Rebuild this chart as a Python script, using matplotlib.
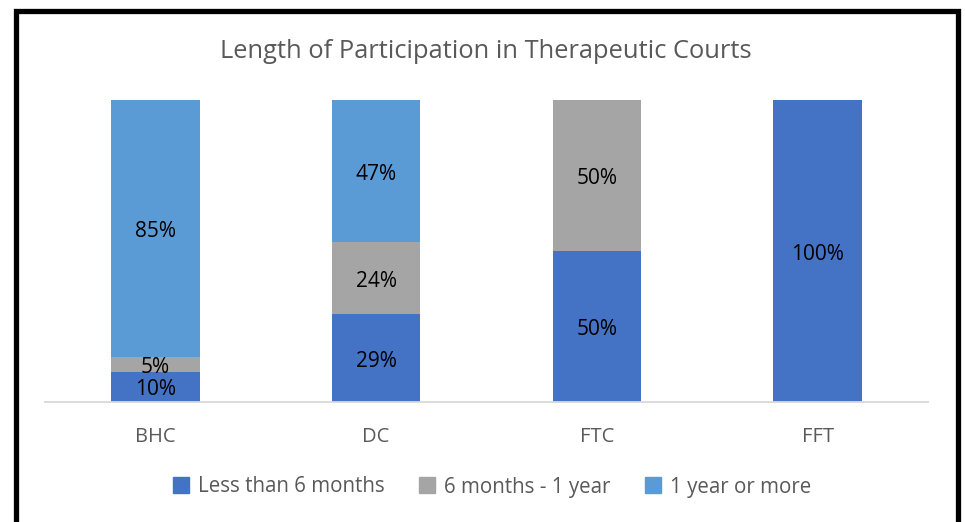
import matplotlib.pyplot as plt
from matplotlib.patches import Rectangle
from matplotlib.lines import Line2D

# Court types and share of participants in each length bracket (%)
courts = ["BHC", "DC", "FTC", "FFT"]
less_6m = [10, 29, 50, 100]
six_to_12m = [5, 24, 50, 0]
year_plus = [85, 47, 0, 0]

series = [
    ("Less than 6 months", less_6m, "#4472C4"),
    ("6 months - 1 year", six_to_12m, "#A5A5A5"),
    ("1 year or more", year_plus, "#5B9BD5"),
]

plt.rcParams['font.family'] = ['Open Sans', 'DejaVu Sans']

fig = plt.figure(figsize=(9.65, 5.22), dpi=100)
ax = fig.add_axes([45 / 965, 120 / 522, 883 / 965, 302 / 522])

x = list(range(len(courts)))
bottom = [0] * len(courts)
for name, vals, col in series:
    ax.bar(x, vals, width=0.4, bottom=bottom, color=col, label=name)
    for xi, v, b in zip(x, vals, bottom):
        if v > 0:
            ax.annotate(f"{v}%", (xi, b + v / 2), xytext=(0, -2.2),
                        textcoords="offset points", ha="center", va="center",
                        fontsize=15, color="black")
    bottom = [b + v for b, v in zip(bottom, vals)]

ax.set_xlim(-0.5, 3.5)
ax.set_ylim(0, 100)
ax.set_xticks(x)
ax.set_xticklabels(courts, fontsize=14.5, color="#595959")
ax.tick_params(axis="x", length=0, pad=18)
ax.set_yticks([])
for side in ["left", "right", "top"]:
    ax.spines[side].set_visible(False)
ax.spines["bottom"].set_color("#D9D9D9")
ax.spines["bottom"].set_linewidth(1.3)

fig.text(486 / 965, 1 - 51 / 522, "Length of Participation in Therapeutic Courts",
         ha="center", va="center", fontsize=18.4, color="#595959")

handles = [Line2D([], [], marker="s", linestyle="none", markersize=11,
                  markerfacecolor=col, markeredgecolor=col) for _, _, col in series]
fig.legend(handles, [s[0] for s in series], loc="center",
           bbox_to_anchor=(491 / 965, 1 - 487 / 522), ncol=3, frameon=False,
           fontsize=14.8, labelcolor="#595959", handletextpad=0.3,
           columnspacing=1.6, handlelength=1.0)

# black frame around the chart (bottom edge runs off the canvas)
fig.patches.append(Rectangle((15.5 / 965, -0.1), 942 / 965, 1.1 - 10.5 / 522,
                             transform=fig.transFigure, fill=False,
                             edgecolor="black", linewidth=3.8))

fig.savefig("out.png", dpi=100)
